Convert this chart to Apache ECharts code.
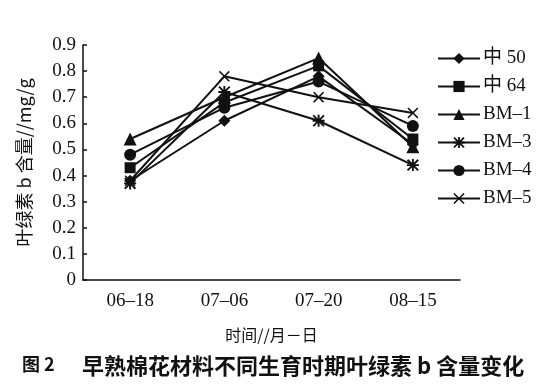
<!DOCTYPE html>
<html><head><meta charset="utf-8">
<script src="https://cdn.jsdelivr.net/npm/echarts@6/dist/echarts.min.js"></script>
<style>html,body{margin:0;padding:0;background:#fff}#c{width:548px;height:386px}</style>
</head><body><div id="c"></div>
<script>
const categories = ['06–18', '07–06', '07–20', '08–15'];
const seriesNames = ['中 50', '中 64', 'BM–1', 'BM–3', 'BM–4', 'BM–5'];
const z50 = [0.38, 0.61, 0.78, 0.52];
const z64 = [0.43, 0.68, 0.82, 0.54];
const bm1 = [0.54, 0.70, 0.85, 0.51];
const bm3 = [0.37, 0.72, 0.61, 0.44];
const bm4 = [0.48, 0.66, 0.76, 0.59];
const bm5 = [0.38, 0.78, 0.70, 0.64];
const yTicks = ['0', '0.1', '0.2', '0.3', '0.4', '0.5', '0.6', '0.7', '0.8', '0.9'];

const X = 'path://M0,1 L1,0 L5,4 L9,0 L10,1 L6,5 L10,9 L9,10 L5,6 L1,10 L0,9 L4,5 Z';
const STAR = 'path://M4.2,0 L5.8,0 L5.8,10 L4.2,10 Z M0,4.2 L10,4.2 L10,5.8 L0,5.8 Z M0,1.1 L1.1,0 L10,8.9 L8.9,10 Z M8.9,0 L10,1.1 L1.1,10 L0,8.9 Z';
const symbols = ['diamond', 'rect', 'triangle', STAR, 'circle', X];
const sizes = [12, 11, 13, 12, 12, 11];
const data = [z50, z64, bm1, bm3, bm4, bm5];

const serif = '"Liberation Serif", "Noto Sans CJK SC", serif';
const chart = echarts.init(document.getElementById('c'), null, {renderer: 'canvas'});
chart.setOption({
  animation: false,
  backgroundColor: '#fff',
  grid: {left: 83, right: 88, top: 45, bottom: 106},
  legend: {
    orient: 'vertical', left: 437, top: 49, padding: 0, itemGap: 9, itemWidth: 42, itemHeight: 14,
    textStyle: {fontFamily: serif, fontSize: 19, color: '#111', padding: [0, 0, 0, -2]},
    data: seriesNames
  },
  xAxis: {
    type: 'category', data: categories, boundaryGap: true,
    name: '时间//月－日', nameLocation: 'middle', nameGap: 47,
    nameTextStyle: {fontFamily: '"Noto Sans CJK SC", sans-serif', fontSize: 16, color: '#111'},
    axisLine: {lineStyle: {color: '#111', width: 1.5}},
    axisTick: {inside: true, length: 5, lineStyle: {color: '#111', width: 1.5}},
    axisLabel: {fontFamily: serif, fontSize: 19, color: '#111', margin: 12}
  },
  yAxis: {
    type: 'value', min: 0, max: 0.9, interval: 0.1,
    name: '叶绿素 b 含量//mg/g', nameLocation: 'middle', nameGap: 50, nameRotate: 90,
    nameTextStyle: {fontFamily: '"Noto Sans CJK SC", serif', fontSize: 18, color: '#111'},
    axisLine: {show: true, lineStyle: {color: '#111', width: 1.5}},
    axisTick: {show: true, inside: true, length: 4, lineStyle: {color: '#111', width: 1.5}},
    splitLine: {show: false},
    axisLabel: {fontFamily: serif, fontSize: 19, color: '#111', margin: 7,
      formatter: v => yTicks[Math.round(v * 10)]}
  },
  series: data.map((d, i) => ({
    name: seriesNames[i], type: 'line', data: d,
    symbol: symbols[i], symbolSize: sizes[i], showAllSymbol: true,
    lineStyle: {color: '#111', width: 2},
    itemStyle: {color: '#111', borderColor: '#111', borderWidth: 0},
    z: 3
  })),
  graphic: [
    {type: 'text', left: 22, top: 355,
      style: {text: '图 2', font: 'bold 18px "Noto Sans CJK SC", sans-serif', fill: '#111'}},
    {type: 'text', left: 82, top: 355,
      style: {text: '早熟棉花材料不同生育时期叶绿素 b 含量变化', font: 'bold 22px "Noto Sans CJK SC", sans-serif', fill: '#111'}}
  ]
});
</script></body></html>
